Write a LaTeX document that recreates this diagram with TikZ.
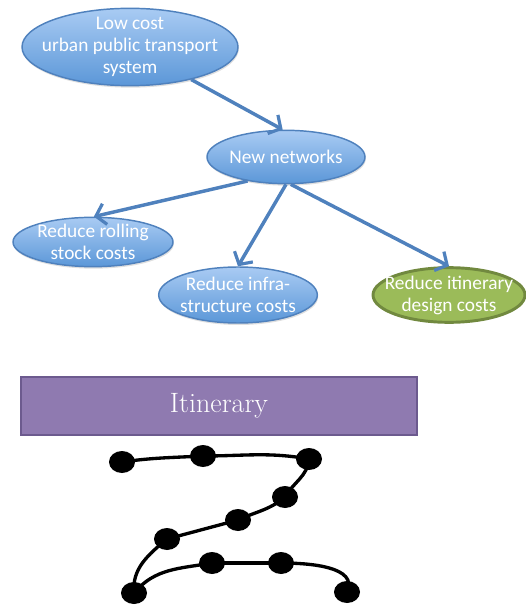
\documentclass[tikz,border=0pt]{standalone}
\usepackage{fontspec}
\newfontfamily\bubblefont{Carlito}
\usepackage{tikz}
\usetikzlibrary{arrows.meta,positioning,shapes.geometric,shadows}
\definecolor{bubbleblue}{HTML}{4F81BD}
\definecolor{bubbletop}{HTML}{A9CBF3}
\definecolor{bubblebot}{HTML}{5B97D8}
\definecolor{goalgreen}{HTML}{9BBB59}
\definecolor{goalgreendark}{HTML}{71893F}
\definecolor{itinpurple}{HTML}{8F7AB0}
\definecolor{itinpurpledark}{HTML}{6C5A8E}

\begin{document}
\begin{tikzpicture}[
    x=0.75pt, y=0.75pt,
    bubble/.style={ellipse, draw=bubbleblue, line width=1.1pt, top color=bubbletop, bottom color=bubblebot,
      text=white, align=center, inner xsep=-12pt, inner ysep=-6pt, font=\bubblefont\fontsize{14.5}{16.5}\selectfont,
      drop shadow={opacity=0.25, shadow xshift=0.6pt, shadow yshift=-1.5pt}},
    goal/.style={ellipse, draw=goalgreendark, line width=2.2pt, fill=goalgreen,
      text=white, align=center, inner xsep=-12pt, inner ysep=-6pt, font=\bubblefont\fontsize{14.5}{16.5}\selectfont},
    banner/.style={rectangle, draw=itinpurpledark, line width=1.5pt, fill=itinpurple, text=white,
      minimum width=297pt, minimum height=43.5pt, font=\fontsize{21}{25}\selectfont},
    stop/.style={ellipse, fill=black, minimum width=19.5pt, minimum height=16.5pt, inner sep=0pt},
    arrow/.style={-{Straight Barb[length=2.4mm,width=5.6mm,line width=2.4pt]}, line width=2.6pt, draw=bubbleblue},
    route/.style={line width=2.5pt, draw=black}
  ]
    \useasboundingbox (0,0) rectangle (525,-605);

    \node[bubble, minimum width=162pt, minimum height=58pt] (lowcost) at (130,-47) {Low cost\\urban public transport\\system};
    \node[bubble, minimum width=118.5pt, minimum height=40pt] (networks) at (286,-157) {New networks};
    \node[bubble, minimum width=120pt, minimum height=37pt] (rolling) at (93,-242) {Reduce rolling\\stock costs};
    \node[bubble, minimum width=119pt, minimum height=42pt] (infra) at (238,-295) {Reduce infra-\\structure costs};
    \node[goal, minimum width=114pt, minimum height=41pt] (design) at (449,-295) {Reduce itinerary\\design costs};

    \draw[arrow] (lowcost.-28) -- (networks.97);
    \draw[arrow] (networks.212) -- (rolling.88);
    \draw[arrow] (networks.-90) -- (infra.90);
    \draw[arrow] (networks.-80) -- (design.90);

    \node[banner] (itinerary) at (219,-406) {Itinerary};

    % stops of the itinerary
    \node[stop] (s1) at (122,-462) {};
    \node[stop] (s2) at (203,-456) {};
    \node[stop] (s3) at (309,-459) {};
    \node[stop] (s4) at (285,-497) {};
    \node[stop] (s5) at (238,-520) {};
    \node[stop] (s6) at (167,-539) {};
    \node[stop] (s7) at (134,-593) {};
    \node[stop] (s8) at (212,-563) {};
    \node[stop] (s9) at (281,-563) {};
    \node[stop] (s10) at (347,-592) {};

    \draw[route] (s1.center) to[out=8,in=183] (s2.center);
    \draw[route] (s2.center) to[out=0,in=170] (s3.center);
    \draw[route] (s3.center) to[out=-95,in=60] (s4.center);
    \draw[route] (s4.center) to[out=-140,in=25] (s5.center);
    \draw[route] (s5.center) to[out=-165,in=15] (s6.center);
    \draw[route] (s6.center) to[out=-140,in=95] (s7.center);
    \draw[route] (s7.center) to[out=50,in=190] (s8.center);
    \draw[route] (s8.center) to[out=0,in=180] (s9.center);
    \draw[route] (s9.center) to[out=0,in=65] (s10.center);
  \end{tikzpicture}
\end{document}
